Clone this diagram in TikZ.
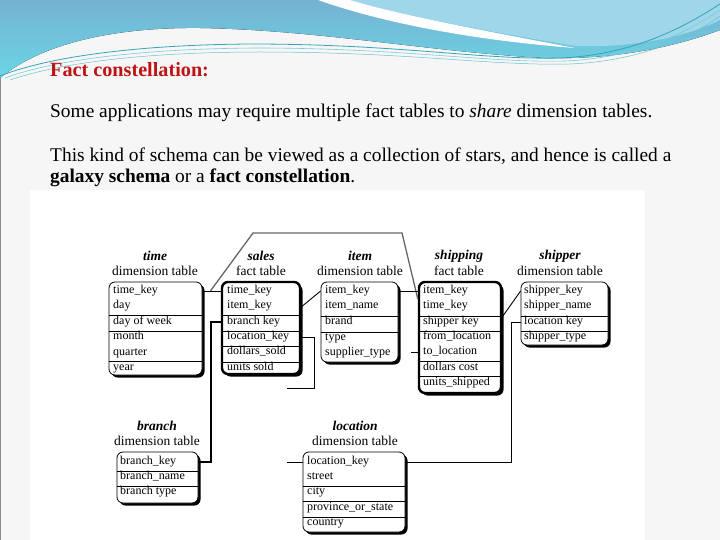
\documentclass[tikz,border=0pt]{standalone}
\usepackage{fontspec}
\setmainfont{Liberation Serif}
\usetikzlibrary{shadows,calc}
\definecolor{titlered}{RGB}{190,20,20}
\definecolor{hblue}{RGB}{118,178,210}
\definecolor{hcyan}{RGB}{105,214,230}
\definecolor{hlight}{RGB}{160,214,234}
\definecolor{tealA}{RGB}{50,165,185}
\definecolor{tealB}{RGB}{120,205,220}
\definecolor{slidebg}{RGB}{246,246,246}
\newcommand\sepl[2]{\draw[sepline] (#1.west |- 0,#2) -- (#1.east |- 0,#2);}
\begin{document}
\begin{tikzpicture}[x=1pt,y=-1pt,
  dimbox/.style={draw=black, line width=0.8pt, rounded corners=6pt, fill=white, inner sep=0pt,
    drop shadow={shadow xshift=2.5pt, shadow yshift=-2.5pt, fill=black, opacity=1}},
  factbox/.style={dimbox, line width=2.4pt},
  rowtxt/.style={anchor=west, inner sep=0pt, text height=8.5pt, text depth=3pt, font=\rmfamily\fontsize{12}{12}\selectfont},
  hdr/.style={inner sep=0pt, font=\fontsize{13.5}{13.5}\selectfont},
  sepline/.style={line width=0.7pt},
  conn/.style={line width=0.9pt},
  para/.style={anchor=base west, inner sep=0pt, font=\fontsize{19.4}{19.4}\selectfont}]
\useasboundingbox (0,0) rectangle (720,540);
% slide background
\fill[slidebg] (0,0) rectangle (720,540);
\draw[black!45, line width=1pt] (0.5,0) -- (0.5,540);
% header decoration
\fill[top color=hblue, bottom color=hcyan] (0,0) -- (720,0) -- (720,30)
  .. controls (680,45) and (620,60) .. (545,58)
  .. controls (430,52) and (320,30) .. (200,28)
  .. controls (110,27) and (40,45) .. (0,78) -- cycle;
\fill[hlight] (350,0) .. controls (400,15) and (480,30) .. (575,46)
  .. controls (640,48) and (690,35) .. (720,20) -- (720,0) -- cycle;
\fill[white] (318,0) .. controls (380,22) and (470,40) .. (575,48)
  .. controls (480,30) and (400,15) .. (350,0) -- cycle;
\draw[line width=0.8pt, tealA] (0,76) .. controls (40,60) and (120,45) .. (250,44)
  .. controls (400,44) and (480,60) .. (560,58) .. controls (630,55) and (680,30) .. (720,4);
\draw[line width=0.6pt, tealB] (5,78) .. controls (45,63) and (125,49) .. (255,48)
  .. controls (405,48) and (485,63) .. (565,61) .. controls (635,58) and (685,34) .. (720,10);
\draw[line width=0.5pt, tealA!70] (10,80) .. controls (50,66) and (130,52) .. (260,52)
  .. controls (410,52) and (490,66) .. (570,64) .. controls (640,61) and (690,38) .. (720,16);
% texts
\node[para, font=\fontsize{20.2}{20.2}\selectfont\bfseries, text=titlered] (title) at (50,77) {Fact constellation:};
\node[para] (p1) at (50,118) {Some applications may require multiple fact tables to \textit{share} dimension tables.};
\node[para] (p2) at (50,162) {This kind of schema can be viewed as a collection of stars, and hence is called a};
\node[para] (p3) at (50,183) {\textbf{galaxy schema} or a \textbf{fact constellation}.};
% diagram area
\fill[white] (30,190) rectangle (645,540);
% headers
\node[hdr] (timeh) at (155,256) {\textbf{\textit{time}}};
\node[hdr] (timeh2) at (155,271) {dimension table};
\node[hdr] (salesh) at (261,256) {\textbf{\textit{sales}}};
\node[hdr] (salesh2) at (261,271) {fact table};
\node[hdr] (itemh) at (360,256) {\textbf{\textit{item}}};
\node[hdr] (itemh2) at (360,271) {dimension table};
\node[hdr] (shiph) at (459,256) {\textbf{\textit{shipping}}};
\node[hdr] (shiph2) at (459,271) {fact table};
\node[hdr] (shipperh) at (560,256) {\textbf{\textit{shipper}}};
\node[hdr] (shipperh2) at (560,271) {dimension table};
\node[hdr] (branchh) at (157,426) {\textbf{\textit{branch}}};
\node[hdr] (branchh2) at (157,441) {dimension table};
\node[hdr] (loch) at (355,426) {\textbf{\textit{location}}};
\node[hdr] (loch2) at (355,441) {dimension table};
% boxes
\node[dimbox, minimum width=93pt, minimum height=93pt] (timebox) at (155.5,328.5) {};
\node[factbox, minimum width=78pt, minimum height=92pt] (salesbox) at (261,328) {};
\node[dimbox, minimum width=77pt, minimum height=80pt] (itembox) at (359.5,322) {};
\node[factbox, minimum width=82pt, minimum height=111pt] (shipbox) at (460,337.5) {};
\node[dimbox, minimum width=87pt, minimum height=63pt] (shipperbox) at (564.5,313.5) {};
\node[dimbox, minimum width=81pt, minimum height=51pt] (branchbox) at (157.5,477.5) {};
\node[dimbox, minimum width=102pt, minimum height=80pt] (locbox) at (354,492) {};
% separators
\sepl{timebox}{315}\sepl{timebox}{331}\sepl{timebox}{361}
\sepl{salesbox}{315}\sepl{salesbox}{331}\sepl{salesbox}{346}\sepl{salesbox}{362}
\sepl{itembox}{316}\sepl{itembox}{332}
\sepl{shipbox}{316}\sepl{shipbox}{331}\sepl{shipbox}{361}\sepl{shipbox}{376}
\sepl{shipperbox}{316}\sepl{shipperbox}{331}
\sepl{branchbox}{471}\sepl{branchbox}{486}
\sepl{locbox}{486}\sepl{locbox}{501}\sepl{locbox}{517}
% rows
\foreach \t/\y [count=\i] in {time\_key/291, day/306, day  of  week/322, month/337, quarter/353, year/368}
  \node[rowtxt] (t\i) at (113,\y) {\t};
\foreach \t/\y [count=\i] in {time\_key/291, item\_key/306, branch  key/322, location\_key/337, dollars\_sold/352, units  sold/368}
  \node[rowtxt] (s\i) at (227,\y) {\t};
\foreach \t/\y [count=\i] in {item\_key/291, item\_name/306, brand/322, type/338, supplier\_type/353}
  \node[rowtxt] (i\i) at (325,\y) {\t};
\foreach \t/\y [count=\i] in {item\_key/291, time\_key/306, shipper  key/322, from\_location/337, to\_location/352, dollars  cost/368, units\_shipped/383}
  \node[rowtxt] (sh\i) at (423,\y) {\t};
\foreach \t/\y [count=\i] in {shipper\_key/291, shipper\_name/306, location  key/322, shipper\_type/337}
  \node[rowtxt] (sp\i) at (524,\y) {\t};
\foreach \t/\y [count=\i] in {branch\_key/462, branch\_name/477, branch  type/492}
  \node[rowtxt] (b\i) at (120,\y) {\t};
\foreach \t/\y [count=\i] in {location\_key/462, street/477, city/492, province\_or\_state/508, country/523}
  \node[rowtxt] (l\i) at (307,\y) {\t};
% connectors
\draw[conn] (timebox.east |- t1) -- (salesbox.west |- s1);
\coordinate (j1) at ($(timebox.east |- t1)+(8,0)$);
\coordinate (jt) at ($(shipbox.west |- sh2)+(0,-7)$);
\draw[conn, draw=black!60, line width=1.3pt] (j1) -- (253,233) -- (402,233) -- (jt);
\draw[conn] ($(salesbox.east |- s2)+(0,1)$) -- (itembox.west |- i1);
\draw[conn] (itembox.east |- i1) -- (shipbox.west |- sh1);
\draw[conn, line width=1.6pt] (salesbox.west |- s3) -- ++(-10,0) |- (branchbox.east |- b1);
\coordinate (lc) at (287,388);
\draw[conn] (salesbox.east |- s4) -- ++(13,0) |- (lc);
\draw[conn] (locbox.west |- l1) -- ++(-16,0);
\draw[conn] (shipbox.west |- sh5) -- ++(-7,0);
\draw[conn] (shipperbox.west |- sp3) -- ++(-9,0) |- (locbox.east |- l1);
\draw[conn] ($(shipbox.east |- sh3)+(0,-5)$) -- (shipperbox.west |- sp1);
\end{tikzpicture}
\end{document}
